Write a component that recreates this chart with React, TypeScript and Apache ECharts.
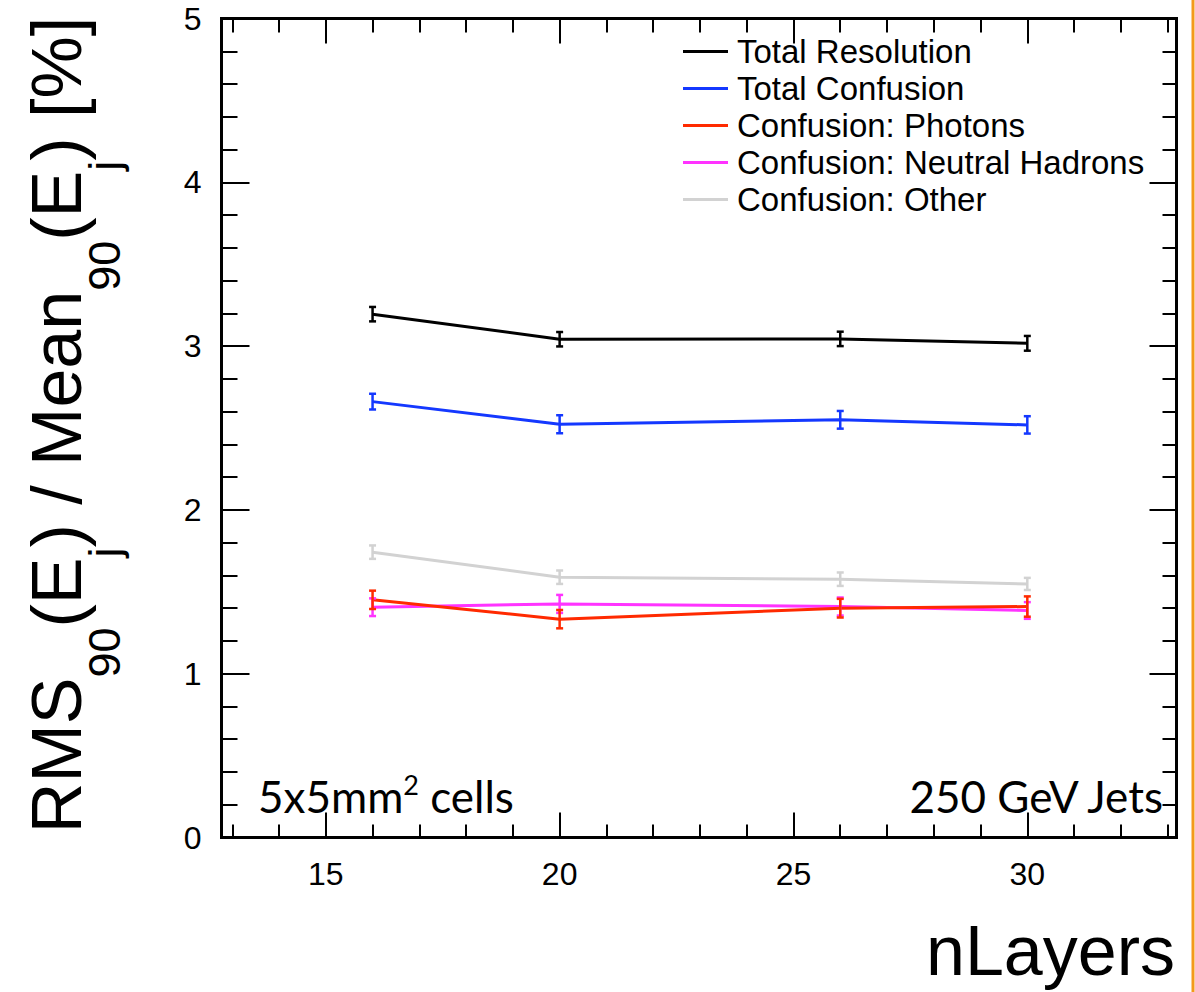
import React, { useEffect, useRef } from "react";
import * as echarts from "echarts";

// ---- data ----
const nLayers = [16, 20, 26, 30];

const totalResolution = [3.195, 3.042, 3.044, 3.017];
const totalResolutionErr = [0.044, 0.044, 0.044, 0.045];

const totalConfusion = [2.661, 2.523, 2.55, 2.519];
const totalConfusionErr = [0.048, 0.055, 0.054, 0.053];

const confPhotons = [1.451, 1.333, 1.4, 1.41];
const confPhotonsErr = [0.056, 0.056, 0.057, 0.062];

const confNeutralHadrons = [1.406, 1.426, 1.41, 1.386];
const confNeutralHadronsErr = [0.054, 0.055, 0.055, 0.051];

const confOther = [1.742, 1.589, 1.577, 1.548];
const confOtherErr = [0.041, 0.041, 0.041, 0.037];

const seriesNames = [
  "Total Resolution",
  "Total Confusion",
  "Confusion: Photons",
  "Confusion: Neutral Hadrons",
  "Confusion: Other",
];

const xMajorTicks = [15, 20, 25, 30];
const xMinorTicks = [13, 14, 15, 16, 17, 18, 19, 20, 21, 22, 23, 24, 25, 26, 27, 28, 29, 30, 31, 32, 33];
const X_MIN = 12.77;
const X_MAX = 33.19;
const Y_MIN = 0;
const Y_MAX = 5;

const FONT = "'Liberation Sans', Arial, Helvetica, sans-serif";
const ANNOT_FONT = "Lato, 'Open Sans', sans-serif";

type S = { name: string; values: number[]; errs: number[]; color: string };

const seriesDefs: S[] = [
  { name: seriesNames[4], values: confOther, errs: confOtherErr, color: "#d2d2d2" },
  { name: seriesNames[3], values: confNeutralHadrons, errs: confNeutralHadronsErr, color: "#ff33ff" },
  { name: seriesNames[2], values: confPhotons, errs: confPhotonsErr, color: "#ff2a00" },
  { name: seriesNames[1], values: totalConfusion, errs: totalConfusionErr, color: "#1438ff" },
  { name: seriesNames[0], values: totalResolution, errs: totalResolutionErr, color: "#000000" },
];

function buildOption() {
  const series: any[] = [];
  seriesDefs.forEach((s) => {
    series.push({
      name: s.name,
      type: "line",
      data: nLayers.map((x, i) => [x, s.values[i]]),
      symbol: "none",
      color: s.color,
      lineStyle: { color: s.color, width: 3 },
      xAxisIndex: 0,
      yAxisIndex: 0,
      z: 3,
    });
    series.push({
      name: s.name + " err",
      type: "custom",
      xAxisIndex: 0,
      yAxisIndex: 0,
      z: 4,
      data: nLayers.map((x, i) => [x, s.values[i], s.errs[i]]),
      renderItem: (params: any, api: any) => {
        const x = api.value(0);
        const y = api.value(1);
        const e = api.value(2);
        const top = api.coord([x, y + e]);
        const bot = api.coord([x, y - e]);
        const hw = 3.5;
        const st = { stroke: s.color, lineWidth: 2.5 };
        return {
          type: "group",
          children: [
            { type: "line", shape: { x1: top[0], y1: top[1], x2: bot[0], y2: bot[1] }, style: st },
            { type: "line", shape: { x1: top[0] - hw, y1: top[1], x2: top[0] + hw, y2: top[1] }, style: st },
            { type: "line", shape: { x1: bot[0] - hw, y1: bot[1], x2: bot[0] + hw, y2: bot[1] }, style: st },
          ],
        };
      },
    });
  });

  const xBase = {
    type: "value",
    min: X_MIN,
    max: X_MAX,
    splitLine: { show: false },
    axisLine: { show: false },
  };
  const yBase = {
    type: "value",
    min: Y_MIN,
    max: Y_MAX,
    interval: 1,
    splitLine: { show: false },
    minorSplitLine: { show: false },
    axisLine: { show: false },
  };

  return {
    animation: false,
    backgroundColor: "#ffffff",
    grid: {
      left: 221.5,
      right: 18.5,
      top: 18.5,
      bottom: 154.5,
      show: true,
      borderColor: "#000",
      borderWidth: 3,
      backgroundColor: "transparent",
    },
    xAxis: [
      {
        ...xBase,
        position: "bottom",
        axisTick: { show: true, inside: true, length: 25, customValues: xMajorTicks, lineStyle: { color: "#000", width: 2 } },
        axisLabel: { show: true, customValues: xMajorTicks, fontSize: 32, color: "#000", fontFamily: FONT, margin: 20 },
      },
      {
        ...xBase,
        position: "bottom",
        axisTick: { show: true, inside: true, length: 13, customValues: xMinorTicks, lineStyle: { color: "#000", width: 2 } },
        axisLabel: { show: false },
      },
      {
        ...xBase,
        position: "top",
        axisTick: { show: true, inside: true, length: 25, customValues: xMajorTicks, lineStyle: { color: "#000", width: 2 } },
        axisLabel: { show: false },
      },
      {
        ...xBase,
        position: "top",
        axisTick: { show: true, inside: true, length: 14, customValues: xMinorTicks, lineStyle: { color: "#000", width: 2 } },
        axisLabel: { show: false },
      },
    ],
    yAxis: [
      {
        ...yBase,
        position: "left",
        axisTick: { show: true, inside: true, length: 28, lineStyle: { color: "#000", width: 2 } },
        minorTick: { show: true, splitNumber: 5, length: 16, lineStyle: { color: "#000", width: 2 } },
        axisLabel: { show: true, fontSize: 32, color: "#000", fontFamily: FONT, margin: 20 },
      },
      {
        ...yBase,
        position: "right",
        axisTick: { show: true, inside: true, length: 27, lineStyle: { color: "#000", width: 2 } },
        minorTick: { show: true, splitNumber: 5, length: 14, lineStyle: { color: "#000", width: 2 } },
        axisLabel: { show: false },
      },
    ],
    legend: {
      data: seriesNames,
      orient: "vertical",
      left: 683,
      top: 35,
      padding: 0,
      itemGap: 4,
      itemWidth: 45,
      itemHeight: 3,
      icon: "rect",
      selectedMode: false,
      textStyle: { fontSize: 33, lineHeight: 33, color: "#000", fontFamily: FONT, padding: [0, 0, 0, 4] },
    },
    series,
    graphic: [
      {
        type: "text",
        x: 57,
        y: 425,
        rotation: Math.PI / 2,
        style: {
          text: "{m|RMS}{s|90}{m|(E}{s|j}{m|) / Mean}{s|90}{m|(E}{s|j}{m|) [%]}",
          textAlign: "center",
          textVerticalAlign: "middle",
          align: "center",
          verticalAlign: "middle",
          fill: "#000",
          rich: {
            m: { fontSize: 70, fontFamily: FONT, fill: "#000", color: "#000" },
            s: { fontSize: 45, fontFamily: FONT, fill: "#000", color: "#000", padding: [94, 0, 0, 0] },
          },
        },
      },
      {
        type: "text",
        x: 1175,
        y: 951,
        style: {
          text: "nLayers",
          textAlign: "right",
          textVerticalAlign: "middle",
          align: "right",
          verticalAlign: "middle",
          fontSize: 70,
          fontFamily: FONT,
          fill: "#000",
        },
      },
      {
        type: "text",
        x: 258,
        y: 796,
        style: {
          text: "{a|5x5mm}{b|2}{a| cells}",
          textAlign: "left",
          textVerticalAlign: "middle",
          align: "left",
          verticalAlign: "middle",
          fill: "#000",
          rich: {
            a: { fontSize: 44, fontFamily: ANNOT_FONT, fill: "#000", color: "#000" },
            b: { fontSize: 27, fontFamily: ANNOT_FONT, fill: "#000", color: "#000", padding: [0, 0, 23, 0] },
          },
        },
      },
      {
        type: "text",
        x: 1163,
        y: 796,
        style: {
          text: "250 GeV Jets",
          textAlign: "right",
          textVerticalAlign: "middle",
          align: "right",
          verticalAlign: "middle",
          fontSize: 44,
          fontFamily: ANNOT_FONT,
          fill: "#000",
        },
      },
      {
        type: "rect",
        shape: { x: 1191.5, y: 0, width: 3, height: 992 },
        style: { fill: "#f39a1a" },
      },
    ],
  };
}

export default function App() {
  const ref = useRef<HTMLDivElement>(null);
  useEffect(() => {
    if (!ref.current) return;
    const chart = echarts.init(ref.current, undefined, { renderer: "svg" });
    chart.setOption(buildOption() as any);
    return () => chart.dispose();
  }, []);
  return (
    <div
      ref={ref}
      style={{ position: "fixed", left: 0, top: 0, width: 1195, height: 992, background: "#fff" }}
    />
  );
}
